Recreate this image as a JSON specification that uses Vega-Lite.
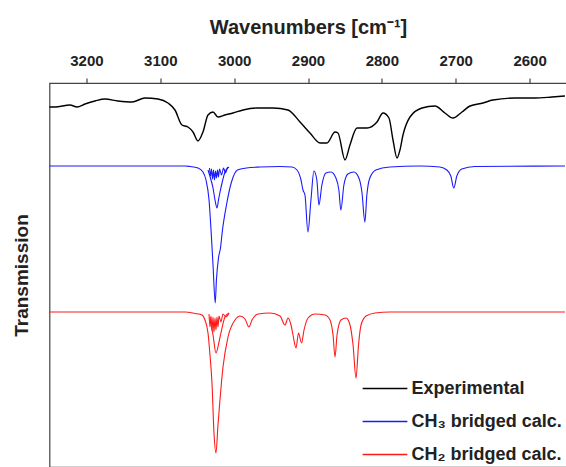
{
  "$schema": "https://vega.github.io/schema/vega-lite/v6.json",
  "autosize": "none",
  "width": 517,
  "height": 384,
  "padding": {"left": 49.5, "top": 83, "right": 0, "bottom": 0},
  "background": "white",
  "config": {
    "view": {"stroke": "#444", "strokeWidth": 1.2},
    "font": "Liberation Sans"
  },
  "datasets": {
    "exp": [
      {"w": 3250, "t": 360}, {"w": 3242.6, "t": 360}, {"w": 3222.2, "t": 362}, {"w": 3212.8, "t": 360},
      {"w": 3201.9, "t": 363}, {"w": 3188.4, "t": 366}, {"w": 3174.9, "t": 368}, {"w": 3157.3, "t": 366},
      {"w": 3138.3, "t": 365}, {"w": 3120.7, "t": 369}, {"w": 3103.1, "t": 368}, {"w": 3089.6, "t": 364},
      {"w": 3080.1, "t": 357}, {"w": 3070.6, "t": 342}, {"w": 3062.5, "t": 340}, {"w": 3055.7, "t": 335},
      {"w": 3049.0, "t": 326}, {"w": 3042.2, "t": 335}, {"w": 3035.4, "t": 352}, {"w": 3028.6, "t": 355},
      {"w": 3021.9, "t": 350}, {"w": 3012.4, "t": 352}, {"w": 3001.5, "t": 354}, {"w": 2988.0, "t": 357},
      {"w": 2969.0, "t": 359}, {"w": 2947.4, "t": 359}, {"w": 2927.1, "t": 357}, {"w": 2910.8, "t": 345},
      {"w": 2897.3, "t": 334}, {"w": 2883.7, "t": 324}, {"w": 2874.3, "t": 324}, {"w": 2863.4, "t": 335},
      {"w": 2859.4, "t": 334}, {"w": 2849.9, "t": 307}, {"w": 2843.2, "t": 322}, {"w": 2833.7, "t": 339},
      {"w": 2820.1, "t": 339}, {"w": 2806.6, "t": 345}, {"w": 2798.5, "t": 354}, {"w": 2790.4, "t": 349},
      {"w": 2784.9, "t": 327}, {"w": 2779.5, "t": 309}, {"w": 2775.5, "t": 317}, {"w": 2771.4, "t": 332},
      {"w": 2761.9, "t": 350}, {"w": 2745.7, "t": 359}, {"w": 2728.1, "t": 361}, {"w": 2714.6, "t": 354},
      {"w": 2703.7, "t": 349}, {"w": 2691.5, "t": 355}, {"w": 2680.7, "t": 361}, {"w": 2663.1, "t": 364},
      {"w": 2649.6, "t": 367}, {"w": 2619.8, "t": 369}, {"w": 2592.7, "t": 369}, {"w": 2569.7, "t": 370},
      {"w": 2552.1, "t": 371}
    ],
    "ch3": [
      {"p": "a", "w": 3250, "t": 301}, {"p": "a", "w": 3066.5, "t": 301}, {"p": "a", "w": 3059.8, "t": 300.5},
      {"p": "a", "w": 3048.9, "t": 299}, {"p": "a", "w": 3042.2, "t": 295}, {"p": "a", "w": 3038.1, "t": 287},
      {"p": "a", "w": 3034.0, "t": 267}, {"p": "a", "w": 3031.3, "t": 237}, {"p": "a", "w": 3028.6, "t": 202},
      {"p": "a", "w": 3025.6, "t": 164}, {"p": "a", "w": 3024.0, "t": 187}, {"p": "a", "w": 3021.2, "t": 209},
      {"p": "a", "w": 3018.5, "t": 219}, {"p": "a", "w": 3015.8, "t": 237}, {"p": "a", "w": 3010.4, "t": 262},
      {"p": "a", "w": 3003.6, "t": 285}, {"p": "a", "w": 2995.5, "t": 297}, {"p": "a", "w": 2983.3, "t": 299},
      {"p": "a", "w": 2965.0, "t": 300}, {"p": "a", "w": 2937.9, "t": 300.5}, {"p": "a", "w": 2921.6, "t": 300},
      {"p": "a", "w": 2914.9, "t": 297}, {"p": "a", "w": 2909.5, "t": 287}, {"p": "a", "w": 2906.8, "t": 277},
      {"p": "a", "w": 2904.1, "t": 272}, {"p": "a", "w": 2900.1, "t": 235}, {"p": "a", "w": 2896.0, "t": 267},
      {"p": "a", "w": 2892.0, "t": 296}, {"p": "a", "w": 2888.0, "t": 287}, {"p": "a", "w": 2885.2, "t": 262},
      {"p": "a", "w": 2881.2, "t": 282}, {"p": "a", "w": 2875.8, "t": 294}, {"p": "a", "w": 2869.0, "t": 295},
      {"p": "a", "w": 2862.2, "t": 289}, {"p": "a", "w": 2858.2, "t": 277}, {"p": "a", "w": 2855.5, "t": 257},
      {"p": "a", "w": 2851.4, "t": 282}, {"p": "a", "w": 2846.0, "t": 293}, {"p": "a", "w": 2837.9, "t": 295},
      {"p": "a", "w": 2831.1, "t": 289}, {"p": "a", "w": 2827.0, "t": 275}, {"p": "a", "w": 2823.0, "t": 245},
      {"p": "a", "w": 2820.3, "t": 272}, {"p": "a", "w": 2816.3, "t": 289}, {"p": "a", "w": 2808.2, "t": 297},
      {"p": "a", "w": 2789.2, "t": 300}, {"p": "a", "w": 2748.6, "t": 301}, {"p": "a", "w": 2721.5, "t": 300},
      {"p": "a", "w": 2712.0, "t": 297}, {"p": "a", "w": 2706.6, "t": 291}, {"p": "a", "w": 2702.6, "t": 279},
      {"p": "a", "w": 2698.5, "t": 291}, {"p": "a", "w": 2691.8, "t": 298}, {"p": "a", "w": 2674.2, "t": 300.5},
      {"p": "a", "w": 2552, "t": 301},
      {"p": "b", "w": 3035.4, "t": 297}, {"p": "b", "w": 3031.3, "t": 287}, {"p": "b", "w": 3028.6, "t": 279},
      {"p": "b", "w": 3025.9, "t": 267}, {"p": "b", "w": 3023.2, "t": 259}, {"p": "b", "w": 3021.2, "t": 267},
      {"p": "b", "w": 3019.1, "t": 275}, {"p": "b", "w": 3016.4, "t": 284}, {"p": "b", "w": 3012.4, "t": 295},
      {"p": "b", "w": 3007.0, "t": 300},
      {"p": "c", "w": 3033.4, "t": 299}, {"p": "c", "w": 3032.0, "t": 291}, {"p": "c", "w": 3030.7, "t": 298},
      {"p": "c", "w": 3029.3, "t": 288}, {"p": "c", "w": 3027.9, "t": 297}, {"p": "c", "w": 3026.6, "t": 287},
      {"p": "c", "w": 3025.2, "t": 296}, {"p": "c", "w": 3023.9, "t": 289}, {"p": "c", "w": 3022.5, "t": 297},
      {"p": "c", "w": 3021.2, "t": 290}, {"p": "c", "w": 3019.8, "t": 298}, {"p": "c", "w": 3017.1, "t": 292},
      {"p": "c", "w": 3014.4, "t": 299}, {"p": "c", "w": 3011.7, "t": 294}, {"p": "c", "w": 3009.0, "t": 300}
    ],
    "ch2": [
      {"p": "a", "w": 3250, "t": 155}, {"p": "a", "w": 3066.5, "t": 155}, {"p": "a", "w": 3053.0, "t": 153.5},
      {"p": "a", "w": 3043.5, "t": 152}, {"p": "a", "w": 3039.5, "t": 147}, {"p": "a", "w": 3035.4, "t": 134},
      {"p": "a", "w": 3032.7, "t": 112}, {"p": "a", "w": 3030.0, "t": 84}, {"p": "a", "w": 3027.3, "t": 34},
      {"p": "a", "w": 3024.6, "t": 14}, {"p": "a", "w": 3021.9, "t": 42}, {"p": "a", "w": 3019.2, "t": 67},
      {"p": "a", "w": 3015.1, "t": 100}, {"p": "a", "w": 3008.3, "t": 130}, {"p": "a", "w": 2998.8, "t": 147},
      {"p": "a", "w": 2992.1, "t": 151}, {"p": "a", "w": 2985.3, "t": 148}, {"p": "a", "w": 2979.9, "t": 140},
      {"p": "a", "w": 2975.8, "t": 147}, {"p": "a", "w": 2967.7, "t": 153}, {"p": "a", "w": 2951.4, "t": 154},
      {"p": "a", "w": 2937.9, "t": 151}, {"p": "a", "w": 2931.1, "t": 142}, {"p": "a", "w": 2927.1, "t": 149},
      {"p": "a", "w": 2923.0, "t": 142}, {"p": "a", "w": 2920.3, "t": 132}, {"p": "a", "w": 2916.2, "t": 119},
      {"p": "a", "w": 2912.9, "t": 134}, {"p": "a", "w": 2908.8, "t": 124}, {"p": "a", "w": 2905.4, "t": 137},
      {"p": "a", "w": 2899.9, "t": 149}, {"p": "a", "w": 2890.5, "t": 153}, {"p": "a", "w": 2876.9, "t": 152},
      {"p": "a", "w": 2870.2, "t": 147}, {"p": "a", "w": 2866.1, "t": 132}, {"p": "a", "w": 2863.4, "t": 110},
      {"p": "a", "w": 2860.7, "t": 132}, {"p": "a", "w": 2855.3, "t": 147}, {"p": "a", "w": 2848.5, "t": 149},
      {"p": "a", "w": 2843.1, "t": 142}, {"p": "a", "w": 2839.0, "t": 122}, {"p": "a", "w": 2835.0, "t": 89},
      {"p": "a", "w": 2831.6, "t": 122}, {"p": "a", "w": 2828.2, "t": 142}, {"p": "a", "w": 2821.4, "t": 151},
      {"p": "a", "w": 2809.2, "t": 154}, {"p": "a", "w": 2788.9, "t": 155}, {"p": "a", "w": 2552, "t": 155},
      {"p": "b", "w": 3032.7, "t": 150}, {"p": "b", "w": 3028.6, "t": 132}, {"p": "b", "w": 3024.6, "t": 114},
      {"p": "b", "w": 3020.5, "t": 125}, {"p": "b", "w": 3017.9, "t": 134}, {"p": "b", "w": 3012.4, "t": 150},
      {"p": "b", "w": 3007.0, "t": 154},
      {"p": "c", "w": 3034.0, "t": 153}, {"p": "c", "w": 3032.7, "t": 140}, {"p": "c", "w": 3031.3, "t": 151},
      {"p": "c", "w": 3030.0, "t": 136}, {"p": "c", "w": 3028.6, "t": 150}, {"p": "c", "w": 3027.3, "t": 135},
      {"p": "c", "w": 3025.9, "t": 149}, {"p": "c", "w": 3024.6, "t": 137}, {"p": "c", "w": 3023.2, "t": 150},
      {"p": "c", "w": 3021.9, "t": 140}, {"p": "c", "w": 3020.5, "t": 151}, {"p": "c", "w": 3017.9, "t": 145},
      {"p": "c", "w": 3015.1, "t": 153}, {"p": "c", "w": 3011.1, "t": 150}, {"p": "c", "w": 3007.0, "t": 154}
    ]
  },
  "layer": [
    {
      "data": {"name": "exp"},
      "transform": [{"calculate": "'Experimental'", "as": "series"}],
      "mark": {"type": "line", "strokeWidth": 1.4, "interpolate": "monotone"},
      "encoding": {
        "x": {
          "field": "w", "type": "quantitative",
          "scale": {"domain": [2550, 3250], "reverse": true, "nice": false, "zero": false},
          "axis": {
            "orient": "top",
            "title": "Wavenumbers [cm⁻¹]",
            "titleFont": "Liberation Sans", "titleFontSize": 20, "titleFontWeight": "bold", "titleColor": "#222",
            "titlePadding": 16,
            "values": [3200, 3100, 3000, 2900, 2800, 2700, 2600],
            "format": "d",
            "labelOverlap": false,
            "labelFont": "Liberation Sans", "labelFontSize": 15, "labelFontWeight": "bold", "labelColor": "#222",
            "labelPadding": 10,
            "tickSize": 5,
            "tickColor": "#444", "tickWidth": 1.2,
            "domainColor": "#444", "domainWidth": 1.2,
            "grid": false
          }
        },
        "y": {
          "field": "t", "type": "quantitative",
          "scale": {"domain": [0, 384], "nice": false, "zero": false},
          "axis": {
            "title": "Transmission", "titleFont": "Liberation Sans", "titleFontSize": 19, "titleFontWeight": "bold",
            "titleColor": "#222", "titlePadding": 18,
            "labels": false, "ticks": false, "domain": false, "grid": false
          }
        },
        "color": {
          "field": "series", "type": "nominal",
          "scale": {"domain": ["Experimental", "CH₃ bridged calc.", "CH₂ bridged calc."], "range": ["#000000", "#1a1aff", "#ff1a1a"]},
          "legend": {
            "title": null, "orient": "none", "legendX": 312, "legendY": 282,
            "symbolType": "stroke", "symbolSize": 2000, "symbolStrokeWidth": 1.3,
            "labelFont": "Liberation Sans", "labelFontSize": 18, "labelFontWeight": "bold", "labelColor": "#222",
            "labelOffset": 3, "rowPadding": -16
          }
        }
      }
    },
    {
      "data": {"name": "ch3"},
      "transform": [{"calculate": "'CH₃ bridged calc.'", "as": "series"}],
      "mark": {"type": "line", "strokeWidth": 1.1, "interpolate": "monotone"},
      "encoding": {
        "x": {"field": "w", "type": "quantitative"},
        "y": {"field": "t", "type": "quantitative"},
        "color": {"field": "series", "type": "nominal"},
        "detail": {"field": "p"}
      }
    },
    {
      "data": {"name": "ch2"},
      "transform": [{"calculate": "'CH₂ bridged calc.'", "as": "series"}],
      "mark": {"type": "line", "strokeWidth": 1.1, "interpolate": "monotone"},
      "encoding": {
        "x": {"field": "w", "type": "quantitative"},
        "y": {"field": "t", "type": "quantitative"},
        "color": {"field": "series", "type": "nominal"},
        "detail": {"field": "p"}
      }
    }
  ]
}
